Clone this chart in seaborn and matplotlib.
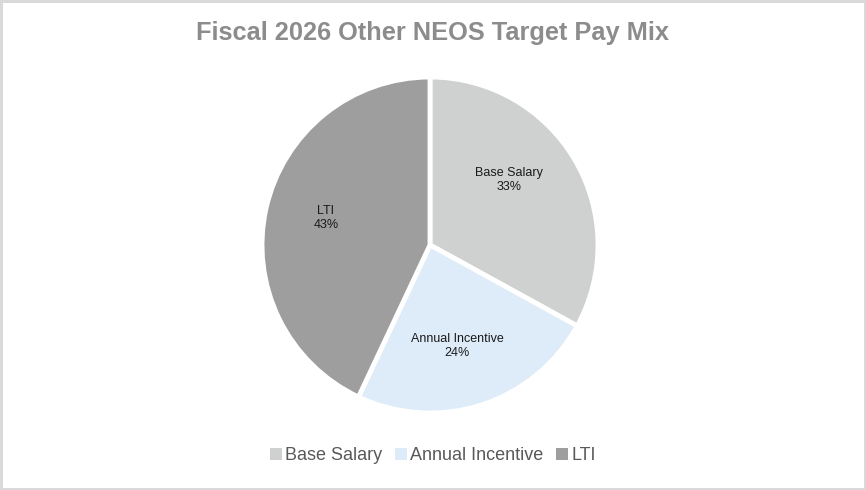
import matplotlib
matplotlib.use("Agg")
import matplotlib.pyplot as plt
import numpy as np
import seaborn as sns

# chart data
categories = ["Base Salary", "Annual Incentive", "LTI"]
shares = [33, 24, 43]
colors = ["#cfd0d0", "#deebf8", "#9e9e9e"]

sns.set_theme(style="white")
plt.rcParams["font.family"] = ["Liberation Sans", "DejaVu Sans"]

fig = plt.figure(figsize=(8.66, 4.9), dpi=100)
fig.patch.set_edgecolor("#d9d9d9")
fig.patch.set_linewidth(2.5)

ax = fig.add_axes([262 / 866, 77 / 490, 336 / 866, 336 / 490])
wedges, _ = ax.pie(shares, colors=colors, startangle=90, counterclock=False,
                   radius=1, wedgeprops=dict(edgecolor="white", linewidth=3.5))
ax.set_xlim(-1, 1)
ax.set_ylim(-1, 1)
ax.set_aspect("equal")
ax.axis("off")

# labels inside slices, name + percent (small angle/radius nudges like excel)
angle_nudge = [9, -3, -2]
radius_lab = [0.61, 0.62, 0.64]
for w, name, val, da, r in zip(wedges, categories, shares, angle_nudge, radius_lab):
    mid = np.deg2rad((w.theta1 + w.theta2) / 2 + da)
    ax.text(r * np.cos(mid), r * np.sin(mid), f"{name}\n{val}%",
            ha="center", va="center", fontsize=9, color="#1a1a1a",
            linespacing=1.2)

fig.suptitle("Fiscal 2026 Other NEOS Target Pay Mix", x=0.5, y=1 - 33 / 490,
             va="center", fontsize=18.3, fontweight="bold", color="#8c8c8c")

leg = fig.legend(wedges, categories, loc="center", bbox_to_anchor=(0.5, 1 - 456 / 490),
                 ncol=3, frameon=False, fontsize=13, handlelength=0.65,
                 handleheight=0.65, handletextpad=0.2, columnspacing=0.7)
for t in leg.get_texts():
    t.set_color("#595959")
for h in leg.legend_handles:
    h.set_edgecolor("none")

fig.savefig("out.png", dpi=100, facecolor="white", edgecolor=fig.patch.get_edgecolor())
